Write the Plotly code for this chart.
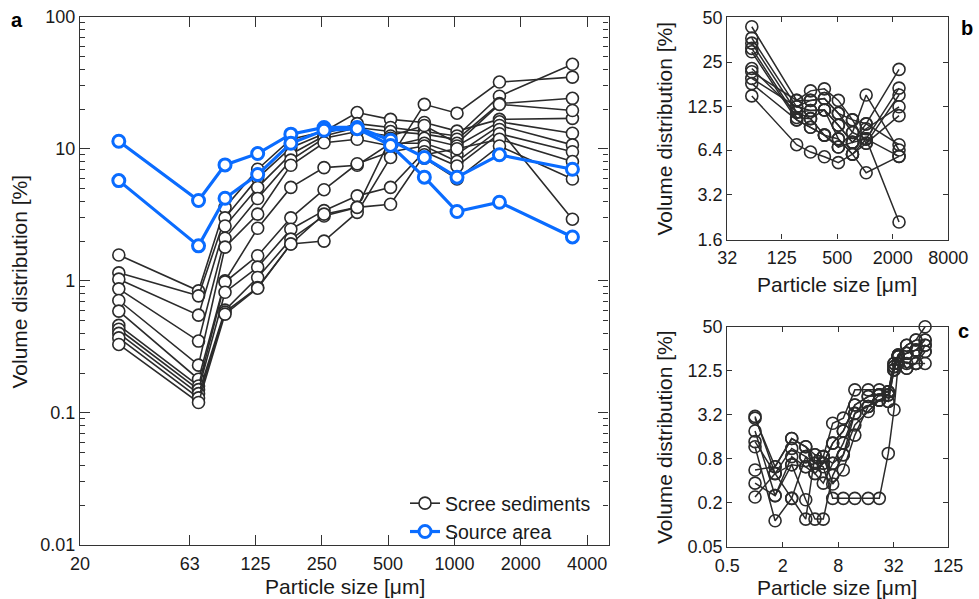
import plotly.graph_objects as go
import math

W, H = 979, 599

# ---------------- Panel a data ----------------
a_x = [30, 69, 91, 128, 181, 256, 362, 513, 730, 1027, 1600, 3430]
a_scree = [
    [1.57, 0.84, 3.6, 7.0, 11.8, 13.5, 18.8, 16.7, 15.8, 13.6, 16.7, 17.0],
    [1.15, 0.77, 3.0, 6.0, 10.2, 13.0, 15.5, 14.5, 13.5, 12.5, 25.0, 43.6],
    [1.03, 0.55, 2.6, 5.1, 9.1, 12.5, 14.5, 13.5, 12.9, 11.8, 22.0, 24.1],
    [0.87, 0.35, 2.1, 4.2, 8.2, 12.0, 13.5, 12.5, 15.0, 11.0, 21.7, 19.5],
    [0.71, 0.23, 1.8, 3.2, 7.5, 11.1, 11.8, 10.5, 12.0, 10.5, 16.0, 13.1],
    [0.59, 0.18, 1.0, 2.5, 5.1, 7.2, 7.5, 11.0, 11.0, 9.1, 15.0, 10.7],
    [0.46, 0.16, 0.98, 1.55, 3.0, 4.9, 7.7, 9.5, 10.5, 8.0, 14.0, 2.93],
    [0.43, 0.15, 0.82, 1.27, 2.46, 3.4, 4.4, 5.1, 9.5, 7.4, 13.0, 9.5],
    [0.40, 0.14, 0.60, 1.06, 2.07, 3.1, 3.6, 3.8, 9.0, 10.0, 11.8, 8.0],
    [0.37, 0.13, 0.58, 0.89, 1.9, 2.0, 3.3, 8.6, 21.7, 18.6, 32.0, 34.9],
    [0.33, 0.12, 0.56, 0.88, 1.9, 3.2, 3.6, 12.0, 8.5, 5.9, 10.5, 5.9],
]
a_source = [
    [11.4, 4.06, 7.55, 9.2, 12.9, 14.5, 14.5, 11.6, 8.6, 6.1, 9.0, 7.0],
    [5.74, 1.84, 4.22, 6.38, 11.0, 13.8, 14.2, 10.6, 6.1, 3.35, 3.94, 2.15],
]
a_xticks = [20, 63, 125, 250, 500, 1000, 2000, 4000]
a_yticks = [0.01, 0.1, 1, 10, 100]
a_ytext = ["0.01", "0.1", "1", "10", "100"]

# ---------------- Panel b data ----------------
b_x = [59, 181, 256, 362, 513, 730, 1027, 2336]
b_series = [
    [43.2, 13.8, 16.0, 16.5, 13.8, 10.2, 9.6, 22.3],
    [36.2, 12.5, 13.8, 14.2, 11.3, 8.4, 15.0, 6.4],
    [33.5, 11.5, 11.8, 11.9, 9.4, 7.2, 7.6, 16.7],
    [30.9, 10.6, 10.4, 11.9, 7.6, 6.0, 7.1, 15.0],
    [29.3, 10.2, 9.1, 8.06, 6.7, 7.2, 8.9, 12.5],
    [22.6, 11.5, 10.4, 8.06, 6.7, 8.4, 7.6, 2.1],
    [21.5, 13.8, 13.8, 14.2, 11.3, 10.2, 7.1, 10.9],
    [19.4, 12.5, 11.8, 11.9, 9.4, 7.2, 9.6, 6.95],
    [17.9, 10.2, 9.1, 8.06, 7.6, 6.0, 7.6, 5.8],
    [14.8, 6.95, 6.2, 5.76, 5.26, 6.0, 4.5, 5.8],
]
b_xticks = [32, 125, 500, 2000, 8000]
b_yticks = [1.6, 3.2, 6.4, 12.5, 25, 50]

# ---------------- Panel c data ----------------
c_x = [1.0, 1.65, 2.5, 3.55, 4.47, 5.5, 6.96, 9.07, 12.1, 16.9, 22.3, 27.9, 32.2, 35.8, 44.2, 55.7, 70]
c_series = [
    [2.84, 0.62, 1.5, 1.16, 0.9, 0.85, 2.42, 2.84, 6.9, 6.9, 6.9, 6.5, 15.8, 20.6, 28.0, 33, 50],
    [3.0, 0.5, 1.1, 0.85, 0.69, 0.69, 1.3, 1.9, 4.3, 5.6, 5.9, 5.9, 14.3, 19.6, 21.7, 24, 33],
    [1.9, 0.25, 0.85, 0.62, 0.5, 0.37, 0.69, 1.3, 3.3, 4.1, 5.0, 4.8, 12.9, 19.6, 15.8, 15.8, 28],
    [1.36, 0.5, 0.66, 0.22, 0.12, 0.12, 0.47, 0.9, 2.29, 3.5, 5.0, 5.9, 12.9, 20.6, 21.7, 24, 23],
    [1.16, 0.114, 0.23, 0.12, 0.9, 0.85, 0.36, 0.56, 1.67, 4.1, 5.9, 6.5, 14.3, 19.6, 13.6, 15.8, 15.8],
    [0.56, 0.62, 1.5, 1.16, 0.69, 0.62, 0.23, 0.23, 0.23, 0.23, 0.23, 0.94, 3.7, 15.8, 13.6, 15.8, 23],
    [0.24, 0.5, 0.23, 0.85, 0.5, 0.69, 1.3, 1.9, 4.3, 5.6, 5.9, 6.5, 15.8, 19.6, 21.7, 24, 28],
    [0.37, 0.25, 0.66, 0.62, 0.69, 0.85, 0.69, 0.9, 3.3, 4.1, 5.0, 4.8, 12.9, 20.6, 28, 33, 33],
]
c_xticks = [0.5, 2, 8, 32, 125]
c_yticks = [0.05, 0.2, 0.8, 3.2, 12.5, 50]

# ---------------- styling ----------------
FONT = "Liberation Sans, Arial, Helvetica, sans-serif"
BLACK = "#2b2b2b"
BLUE = "#0a6cff"
AX = "#333333"


def px_x(p):
    return p / W


def px_y(p):
    return 1 - p / H


fig = go.Figure()

# panel a
for i, s in enumerate(a_scree):
    fig.add_trace(go.Scatter(
        x=a_x, y=s, mode="lines+markers", xaxis="x", yaxis="y",
        line=dict(color=BLACK, width=1.6),
        marker=dict(symbol="circle", size=12, color="white", line=dict(color=BLACK, width=1.6)),
        name="Scree sediments", legendgroup="scree", showlegend=(i == 0)))
for i, s in enumerate(a_source):
    fig.add_trace(go.Scatter(
        x=a_x, y=s, mode="lines+markers", xaxis="x", yaxis="y",
        line=dict(color=BLUE, width=3.2),
        marker=dict(symbol="circle", size=12, color="white", line=dict(color=BLUE, width=3)),
        name="Source area", legendgroup="source", showlegend=(i == 0)))

# panel b
for s in b_series:
    fig.add_trace(go.Scatter(
        x=b_x, y=s, mode="lines+markers", xaxis="x2", yaxis="y2",
        line=dict(color=BLACK, width=1.5),
        marker=dict(symbol="circle", size=12, color="rgba(255,255,255,0)", line=dict(color=BLACK, width=1.6)),
        showlegend=False, cliponaxis=False))

# panel c
for s in c_series:
    fig.add_trace(go.Scatter(
        x=c_x, y=s, mode="lines+markers", xaxis="x3", yaxis="y3",
        line=dict(color=BLACK, width=1.5),
        marker=dict(symbol="circle", size=12, color="rgba(255,255,255,0)", line=dict(color=BLACK, width=1.6)),
        showlegend=False, cliponaxis=False))

tickfont = dict(family=FONT, size=18, color="#1a1a1a")


def axis(domain, rng, tickvals, ticktext, anchor, ticklen, minor=None, standoff=None):
    d = dict(
        type="log", domain=domain, range=rng, anchor=anchor, automargin=False,
        tickmode="array", tickvals=tickvals, ticktext=ticktext,
        ticks="inside", ticklen=ticklen, tickwidth=1.2, tickcolor=AX,
        showline=True, linecolor=AX, linewidth=1.3, mirror="ticks",
        showgrid=False, zeroline=False, tickfont=tickfont,
    )
    if minor is not None:
        d["minor"] = minor
    if standoff is not None:
        d["ticklabelstandoff"] = standoff
    return d


a_minor = dict(tickmode="array",
               tickvals=[m * 10 ** k for k in range(-2, 2) for m in range(2, 10)],
               ticks="inside", ticklen=5, tickwidth=1.2, tickcolor=AX, showgrid=False)

ax_a_x = [px_x(80), px_x(608.5)]
ax_a_y = [px_y(545), px_y(16.7)]
ax_b_x = [px_x(727.3), px_x(948.3)]
ax_b_y = [px_y(239.5), px_y(17.3)]
ax_c_x = [px_x(727.3), px_x(948.3)]
ax_c_y = [px_y(547), px_y(326.7)]

fig.update_layout(
    template="none",
    width=W, height=H, margin=dict(l=0, r=0, t=0, b=0, autoexpand=False),
    paper_bgcolor="white", plot_bgcolor="white",
    font=dict(family=FONT, size=18, color="#1a1a1a"),
    xaxis=axis(ax_a_x, [math.log10(20), math.log10(5000)], a_xticks,
               [str(v) for v in a_xticks], "y", 10, standoff=2),
    yaxis=axis(ax_a_y, [-2, 2], a_yticks, a_ytext, "x", 10, minor=a_minor),
    xaxis2=axis(ax_b_x, [math.log10(32), math.log10(8000)], b_xticks,
                [str(v) for v in b_xticks], "y2", 5, standoff=2),
    yaxis2=axis(ax_b_y, [math.log10(1.6), math.log10(50)], b_yticks,
                [str(v) for v in b_yticks], "x2", 5),
    xaxis3=axis(ax_c_x, [math.log10(0.5), math.log10(125)], c_xticks,
                [str(v) for v in c_xticks], "y3", 5, standoff=2),
    yaxis3=axis(ax_c_y, [math.log10(0.05), math.log10(50)], c_yticks,
                [str(v) for v in c_yticks], "x3", 5),
    legend=dict(x=px_x(405), y=px_y(484), xanchor="left", yanchor="top",
                bgcolor="rgba(0,0,0,0)", borderwidth=0,
                font=dict(family=FONT, size=19.5, color="#1a1a1a"),
                tracegroupgap=0),
    showlegend=True,
)

title_font = dict(family=FONT, size=21, color="#1a1a1a")
annos = [
    dict(text="Volume distribution [%]", x=px_x(19), y=px_y(281.5), textangle=-90),
    dict(text="Particle size [μm]", x=px_x(344.5), y=px_y(586)),
    dict(text="Volume distribution [%]", x=px_x(664), y=px_y(128.5), textangle=-90),
    dict(text="Particle size [μm]", x=px_x(836.7), y=px_y(284.5)),
    dict(text="Volume distribution [%]", x=px_x(664), y=px_y(437), textangle=-90),
    dict(text="Particle size [μm]", x=px_x(836.7), y=px_y(587.5)),
]
for an in annos:
    fig.add_annotation(xref="paper", yref="paper", showarrow=False,
                       xanchor="center", yanchor="middle", font=title_font, **an)

label_font = dict(family=FONT, size=20, color="black")
for txt, x, y in [("<b>a</b>", 16.7, 20), ("<b>b</b>", 966.7, 28), ("<b>c</b>", 963.5, 331)]:
    fig.add_annotation(xref="paper", yref="paper", showarrow=False,
                       xanchor="center", yanchor="middle", text=txt,
                       x=px_x(x), y=px_y(y), font=label_font)

fig.write_html("out.html")
